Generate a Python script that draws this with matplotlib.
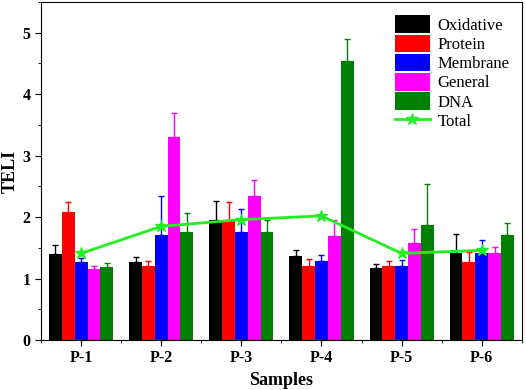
import numpy as np
import matplotlib.pyplot as plt
from matplotlib.ticker import MultipleLocator

plt.rcParams['font.family'] = ['Liberation Serif', 'DejaVu Serif']

samples = ['P-1', 'P-2', 'P-3', 'P-4', 'P-5', 'P-6']
series = ['Oxidative', 'Protein', 'Membrane', 'General', 'DNA']
colors = ['#000000', '#ff0000', '#0000ff', '#ff00ff', '#008000']

oxidative = [1.40, 1.27, 1.96, 1.36, 1.17, 1.42]
protein = [2.08, 1.21, 1.94, 1.21, 1.21, 1.27]
membrane = [1.27, 1.71, 1.76, 1.28, 1.21, 1.42]
general = [1.15, 3.31, 2.35, 1.70, 1.58, 1.41]
dna = [1.19, 1.76, 1.75, 4.54, 1.88, 1.71]

oxidative_err = [0.15, 0.08, 0.31, 0.10, 0.06, 0.30]
protein_err = [0.17, 0.08, 0.30, 0.11, 0.08, 0.17]
membrane_err = [0.06, 0.63, 0.37, 0.10, 0.09, 0.21]
general_err = [0.05, 0.38, 0.26, 0.25, 0.23, 0.11]
dna_err = [0.07, 0.30, 0.21, 0.35, 0.66, 0.20]

total = [1.41, 1.85, 1.96, 2.02, 1.41, 1.46]

values = [oxidative, protein, membrane, general, dna]
errors = [oxidative_err, protein_err, membrane_err, general_err, dna_err]

fig = plt.figure(figsize=(5.26, 3.9), dpi=100)
ax = fig.add_axes([0.078, 0.128, 0.914, 0.867])

x = np.arange(len(samples))
w = 0.16
handles = []
for i, (name, vals, errs, c) in enumerate(zip(series, values, errors, colors)):
    pos = x + (i - 2) * w
    h = ax.bar(pos, vals, width=w, color=c, label=name, zorder=2)
    handles.append(h)
    ax.errorbar(pos, vals, yerr=[np.zeros(len(errs)), errs], fmt='none',
                ecolor=c, elinewidth=1, capsize=2, capthick=1, zorder=1)

line, = ax.plot(x, total, color='#22ee22', lw=2, marker='*', markersize=9,
                label='Total', zorder=3)
handles.append(line)

ax.set_xlim(-0.5, 5.5)
ax.set_ylim(0, 5.5)
ax.set_xticks(x)
ax.set_xticklabels(samples)
ax.xaxis.set_minor_locator(MultipleLocator(0.5))
ax.yaxis.set_major_locator(MultipleLocator(1))
ax.yaxis.set_minor_locator(MultipleLocator(0.5))
ax.tick_params(which='both', direction='out', top=False, right=False)
ax.tick_params(which='major', length=4, labelsize=11.5)
ax.tick_params(which='minor', length=2)
for lab in ax.get_xticklabels() + ax.get_yticklabels():
    lab.set_fontweight('bold')

ax.set_xlabel('Samples', fontsize=13, fontweight='bold', labelpad=4)
ax.set_ylabel('TELI', fontsize=13, fontweight='bold')
ax.yaxis.set_label_coords(-0.046, 0.5)

ax.legend(handles=handles, labels=series + ['Total'], loc='upper left',
          bbox_to_anchor=(0.712, 0.995), frameon=False,
          fontsize=12, handlelength=2.1, handleheight=1.25,
          labelspacing=0.05, handletextpad=0.45, borderpad=0.2)

fig.savefig('out.png', dpi=100)
